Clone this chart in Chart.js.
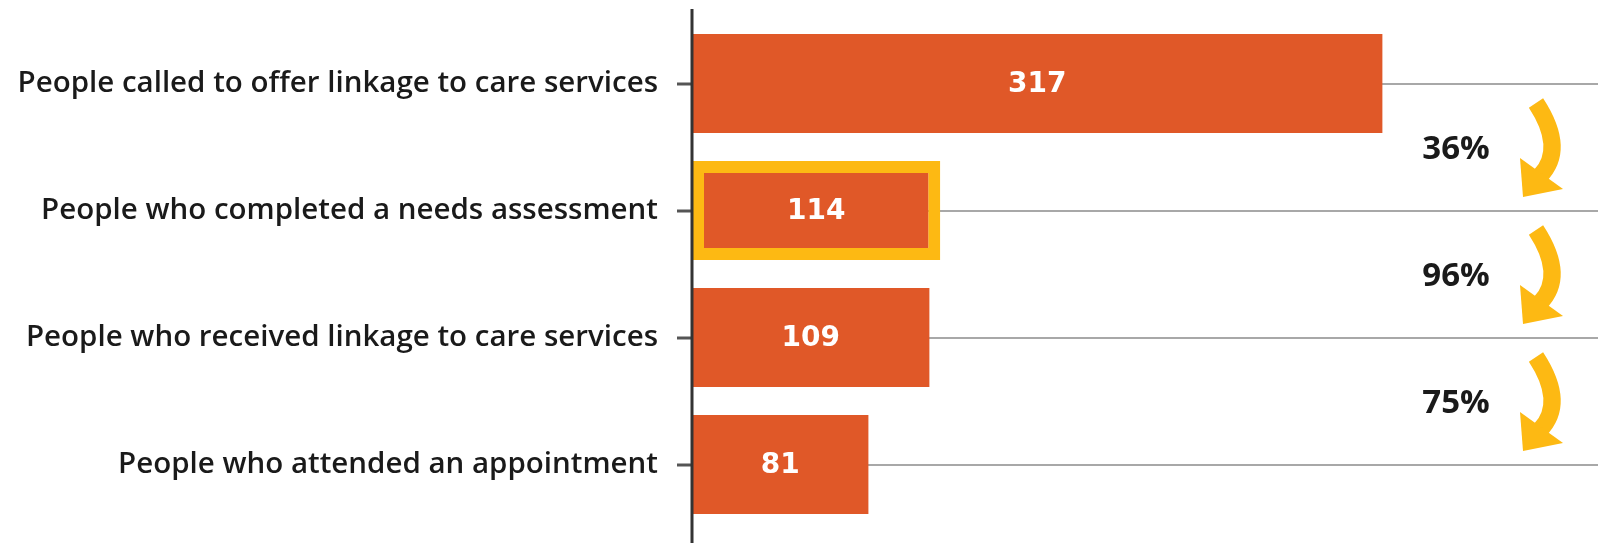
<!DOCTYPE html>
<html>
<head>
<meta charset="utf-8">
<script src="https://cdn.jsdelivr.net/npm/chart.js@4.4.0/dist/chart.umd.min.js"></script>
<style>
  html, body { margin: 0; padding: 0; background: #ffffff; }
  #wrap { position: relative; width: 1598px; height: 543px; }
</style>
</head>
<body>
<div id="wrap"><canvas id="c"></canvas></div>
<script>
const categories = [
  "People called to offer linkage to care services",
  "People who completed a needs assessment",
  "People who received linkage to care services",
  "People who attended an appointment"
];
const values = [317, 114, 109, 81];
const highlighted = [false, true, false, false];
const conversionLabels = ["36%", "96%", "75%"];
const xMax = 416;

const ORANGE = "#E05828";
const YELLOW = "#FDB913";

const overlay = {
  id: "overlay",
  afterDraw(chart) {
    const ctx = chart.ctx;
    const area = chart.chartArea;
    const x = chart.scales.x, y = chart.scales.y;
    const meta = chart.getDatasetMeta(0);
    ctx.save();
    // axis line
    ctx.strokeStyle = "#333333";
    ctx.lineWidth = 3;
    ctx.beginPath();
    ctx.moveTo(area.left, 9);
    ctx.lineTo(area.left, 543);
    ctx.stroke();
    // value labels
    ctx.fillStyle = "#ffffff";
    ctx.font = "bold 28px 'DejaVu Sans'";
    ctx.textAlign = "center";
    ctx.textBaseline = "middle";
    meta.data.forEach((bar, i) => {
      const cx = (x.getPixelForValue(0) + bar.x) / 2;
      ctx.fillText(String(values[i]), cx, bar.y + 1);
    });
    // conversion labels and arrows
    conversionLabels.forEach((lab, i) => {
      const my = (y.getPixelForValue(i) + y.getPixelForValue(i + 1)) / 2;
      ctx.fillStyle = "#1a1a1a";
      ctx.font = "bold 33px 'Open Sans'";
      ctx.textAlign = "center";
      ctx.textBaseline = "middle";
      ctx.fillText(lab, 1456, my + 3);
      // arrow
      ctx.strokeStyle = YELLOW;
      ctx.fillStyle = YELLOW;
      ctx.lineWidth = 17;
      ctx.lineCap = "butt";
      ctx.beginPath();
      ctx.moveTo(1536, my - 44);
      ctx.quadraticCurveTo(1566, my + 2, 1540, my + 29);
      ctx.stroke();
      ctx.beginPath();
      ctx.moveTo(1520, my + 11);
      ctx.lineTo(1563, my + 42);
      ctx.lineTo(1523, my + 50);
      ctx.closePath();
      ctx.fill();
    });
    ctx.restore();
  }
};

new Chart(document.getElementById("c"), {
  type: "bar",
  data: {
    labels: categories,
    datasets: [{
      data: values,
      backgroundColor: ORANGE,
      borderColor: highlighted.map(h => h ? YELLOW : ORANGE),
      borderWidth: highlighted.map(h => h ? 12 : 0),
      borderSkipped: false,
      barPercentage: 0.78,
      categoryPercentage: 1.0
    }]
  },
  plugins: [overlay],
  options: {
    indexAxis: "y",
    responsive: true,
    maintainAspectRatio: false,
    animation: false,
    layout: { padding: { top: 20, bottom: 15, left: 0, right: 0 } },
    plugins: { legend: { display: false }, tooltip: { enabled: false } },
    scales: {
      x: {
        min: 0, max: xMax,
        display: false
      },
      y: {
        afterFit(scale) {
          scale.width = 692;
          scale.paddingTop = 0;
          scale.paddingBottom = 0;
        },
        grid: {
          display: true,
          offset: false,
          color: "#a8a8a8",
          lineWidth: 2,
          drawOnChartArea: true,
          drawTicks: true,
          tickLength: 15,
          tickColor: "#555555",
          tickWidth: 3
        },
        border: { display: false },
        ticks: {
          color: "#1a1a1a",
          padding: 19,
          font: { family: "'Open Sans'", size: 29.5, weight: "600" }
        }
      }
    }
  }
});
</script>
</body>
</html>
